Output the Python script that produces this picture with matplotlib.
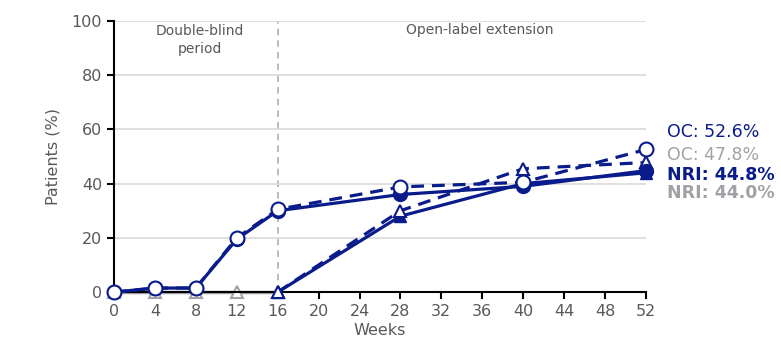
import matplotlib.pyplot as plt

# weeks of assessment
weeks = [0, 4, 8, 12, 16, 28, 40, 52]

# active arm from week 0 (circles)
act_oc = [0, 1.5, 1.5, 20, 30.5, 38.8, 40.5, 52.6]
act_nri = [0, 1.5, 1.5, 19.5, 30, 36, 39, 44.8]

# placebo during double-blind (grey), switched at week 16 (triangles)
pbo_weeks = [0, 4, 8, 12, 16]
pbo_db = [0, 0, 0, 0, 0]
sw_weeks = [16, 28, 40, 52]
sw_oc = [0, 30, 45.5, 47.8]
sw_nri = [0, 28, 40, 44.0]

end_labels = ["OC: 52.6%", "OC: 47.8%", "NRI: 44.8%", "NRI: 44.0%"]

navy = "#0a1c8c"
grey = "#a0a2a6"
txt = "#595959"

fig = plt.figure(figsize=(7.81, 3.49), dpi=100)
ax = fig.add_axes([0.146, 0.163, 0.681, 0.777])

ax.yaxis.grid(True, color="#d9d9d9", lw=1.2, zorder=0)
ax.axvline(16, color="#b0b0b0", ls=(0, (4, 3)), lw=1.2, zorder=1)

# grey placebo line
ax.plot(pbo_weeks, pbo_db, color=grey, lw=2.5, marker="^", ms=9,
        mfc="white", mec=grey, mew=1.5, zorder=2, clip_on=False)

# switched arm
ax.plot(sw_weeks, sw_nri, color=navy, lw=2.3, marker="^", ms=9,
        mfc=navy, mec=navy, zorder=3, clip_on=False)
ax.plot(sw_weeks, sw_oc, color=navy, lw=2.3, ls=(0, (4, 2.5)), marker="^", ms=9,
        mfc="white", mec=navy, mew=1.5, zorder=4, clip_on=False)

# active arm
ax.plot(weeks, act_nri, color=navy, lw=2.3, marker="o", ms=10,
        mfc=navy, mec=navy, zorder=5, clip_on=False)
ax.plot(weeks, act_oc, color=navy, lw=2.3, ls=(0, (4, 2.5)), marker="o", ms=10,
        mfc="white", mec=navy, mew=1.5, zorder=6, clip_on=False)

ax.set_xlim(0, 52)
ax.set_ylim(0, 100)
ax.set_xticks(range(0, 53, 4))
ax.set_yticks(range(0, 101, 20))
for s in ["top", "right"]:
    ax.spines[s].set_visible(False)
for s in ["left", "bottom"]:
    ax.spines[s].set_linewidth(1.5)
ax.tick_params(direction="out", length=5, width=1.5, labelsize=11.5, colors="black",
               labelcolor=txt)
ax.set_xlabel("Weeks", fontsize=11.5, color=txt, labelpad=3)
ax.set_ylabel("Patients (%)", fontsize=11.5, color=txt, labelpad=8)

ax.text(8.4, 93, "Double-blind\nperiod", ha="center", va="center",
        fontsize=10, color=txt, linespacing=1.3)
ax.text(35.8, 96.5, "Open-label extension", ha="center", va="center",
        fontsize=10, color=txt)

ys = [59, 50.5, 43.2, 36.5]
cols = [navy, grey, navy, grey]
wts = ["normal", "normal", "bold", "bold"]
for lab, y, c, w in zip(end_labels, ys, cols, wts):
    ax.text(54.1, y, lab, ha="left", va="center", fontsize=12.5, color=c,
            fontweight=w, clip_on=False)

fig.savefig("out.png", dpi=100)
